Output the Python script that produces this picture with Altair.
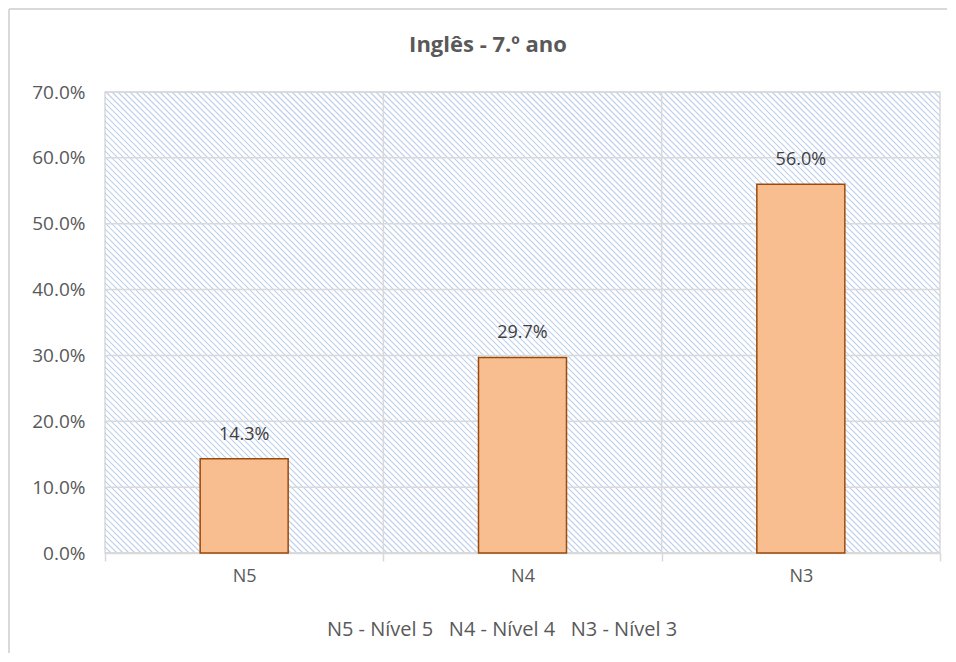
import altair as alt
import pandas as pd

categories = ["N5", "N4", "N3"]
values = [0.143, 0.297, 0.560]
y_ticks = [0.0, 0.1, 0.2, 0.3, 0.4, 0.5, 0.6, 0.7]
legend_labels = ["N5 - Nível 5", "N4 - Nível 4", "N3 - Nível 3"]
title_text = "Inglês - 7.º ano"

W, H = 835, 461
FONT = "Open Sans"
TXT = "#595959"
GRID = "#d9d9d9"

df = pd.DataFrame({"cat": categories, "val": values})
grid_df = pd.DataFrame({"val": y_ticks})
vgrid_df = pd.DataFrame({"cat": categories[1:]})

xscale = alt.Scale(domain=categories, paddingInner=0, paddingOuter=0)
yscale = alt.Scale(domain=[0, 0.7], nice=False)
yaxis = alt.Axis(values=y_ticks, format=".1%", labelFont=FONT,
                 labelFontSize=19, labelColor=TXT, labelPadding=20,
                 ticks=False, domain=False, grid=False)
xaxis = alt.Axis(labelAngle=0, labelFont=FONT, labelFontSize=18,
                 labelColor=TXT, labelPadding=6, domainColor=GRID,
                 domainWidth=1.5, tickColor=GRID, tickWidth=1.5,
                 tickSize=8, tickBand="extent", grid=False)

# outer chart border (decoration): top and left edges only
one = pd.DataFrame({"a": [0]})
border_top = alt.Chart(one).mark_rule(color=GRID, strokeWidth=2).encode(
    x=alt.value(-96), x2=alt.value(W + 7), y=alt.value(-83))
border_left = alt.Chart(one).mark_rule(color=GRID, strokeWidth=2).encode(
    x=alt.value(-96), y=alt.value(-83), y2=alt.value(H + 100))

# hatch background (decoration)
hatch = alt.Chart(alt.sequence(0, 220, as_="k")).transform_calculate(
    x0=f"datum.k*6 - {H}", x1="datum.k*6"
).mark_rule(color="#b4c7e7", strokeWidth=1.2, clip=True, opacity=0.85).encode(
    x=alt.X("x0:Q", scale=None, axis=None),
    x2="x1:Q",
    y=alt.value(0),
    y2=alt.value(H),
)

hgrid = alt.Chart(grid_df).mark_rule(color=GRID, strokeWidth=1.5).encode(
    y=alt.Y("val:Q", scale=yscale, axis=yaxis, title=None)
)

vgrid = alt.Chart(vgrid_df).mark_rule(color=GRID, strokeWidth=1.5).encode(
    x=alt.X("cat:N", scale=xscale, bandPosition=0, axis=None)
)

bars = alt.Chart(df).mark_bar(
    size=88, fill="#f8be8f", stroke="#9c4a0b", strokeWidth=1.5
).encode(
    x=alt.X("cat:N", scale=xscale, sort=categories, title=None, axis=xaxis),
    y=alt.Y("val:Q", scale=yscale, title=None, axis=yaxis),
)

labels = alt.Chart(df).mark_text(
    dy=-24, font=FONT, fontSize=18, color="#404040"
).encode(
    x=alt.X("cat:N", scale=xscale, axis=None),
    y=alt.Y("val:Q", scale=yscale, title=None, axis=yaxis),
    text=alt.Text("val:Q", format=".1%"),
)

title = alt.Chart(pd.DataFrame({"t": [title_text]})).mark_text(
    font=FONT, fontSize=22, fontWeight="bold", color=TXT
).encode(x=alt.value(383), y=alt.value(-47), text="t:N")

sep = "\u00a0\u00a0\u00a0"
legend = alt.Chart(pd.DataFrame({"t": [sep.join(legend_labels)]})).mark_text(
    font=FONT, fontSize=20, color=TXT
).encode(x=alt.value(397), y=alt.value(77 + H), text="t:N")

chart = alt.layer(
    hatch, hgrid, vgrid, bars, labels, title, legend, border_top, border_left
).resolve_scale(x="independent").properties(
    width=W, height=H,
    autosize=alt.AutoSizeParams(type="none"),
    padding={"left": 97, "top": 84, "right": 8, "bottom": 101},
    background="white",
).configure_view(stroke=GRID, strokeWidth=1.5)

chart.save("out.html", embed_options={"renderer": "svg", "actions": False})
